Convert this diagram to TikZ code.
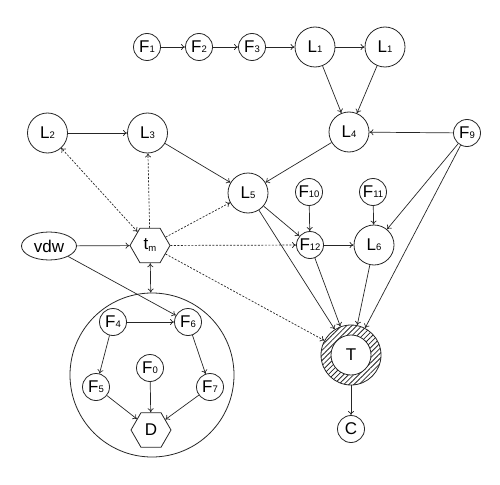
\documentclass[tikz,border=0pt]{standalone}
\usepackage{fontspec}
\setmainfont{Liberation Sans}
\usetikzlibrary{shapes.geometric,patterns.meta,arrows.meta}
\newcommand{\sbs}[1]{{\fontsize{9.5}{9.5}\selectfont #1}}
\begin{document}
\begin{tikzpicture}[x=1pt,y=-1pt,
  every node/.style={font=\fontsize{17}{17}\selectfont, inner sep=0pt, draw=black!85, line width=0.8pt},
  sm/.style={circle, minimum size=27pt},
  bg/.style={circle, minimum size=40pt},
  hex/.style={regular polygon, regular polygon sides=6, minimum size=40pt},
  arr/.style={-{To[length=4pt,width=6pt]}, line width=0.7pt, draw=black!85},
  darr/.style={arr, dash pattern=on 2pt off 1.5pt},
  ddarr/.style={darr, {To[length=4pt,width=6pt]}-{To[length=4pt,width=6pt]}},
]
\useasboundingbox (0,0) rectangle (500,484);
\node[sm] (F1) at (147,47) {F\sbs{1}};
\node[sm] (F2) at (199,47) {F\sbs{2}};
\node[sm] (F3) at (252,47) {F\sbs{3}};
\node[bg] (L1a) at (315,47) {L\sbs{1}};
\node[bg] (L1b) at (385,47) {L\sbs{1}};
\node[bg] (L4) at (349,132) {L\sbs{4}};
\node[sm] (F9) at (467,133) {F\sbs{9}};
\node[bg] (L2) at (47.5,133) {L\sbs{2}};
\node[bg] (L3) at (147.5,133) {L\sbs{3}};
\node[bg] (L5) at (248,193) {L\sbs{5}};
\node[sm] (F10) at (309,192) {F\sbs{10}};
\node[sm] (F11) at (373,192) {F\sbs{11}};
\node[sm] (F12) at (310,245) {F\sbs{12}};
\node[bg] (L6) at (374,245) {L\sbs{6}};
\node[ellipse, minimum width=55pt, minimum height=28pt] (vdw) at (49,246) {vdw};
\node[hex] (tm) at (150,245.5) {t\raisebox{-2pt}{\sbs{m}}};
\node[circle, minimum size=164pt] (grp) at (152,375) {};
\node[sm] (F4) at (113,322) {F\sbs{4}};
\node[sm] (F6) at (188,322) {F\sbs{6}};
\node[sm] (F0) at (150,368) {F\sbs{0}};
\node[sm] (F5) at (96,387) {F\sbs{5}};
\node[sm] (F7) at (210,387) {F\sbs{7}};
\node[hex] (D) at (151,430) {D};
\node[circle, minimum size=60pt, pattern={Lines[angle=45, distance=3.6pt, line width=0.8pt]}, pattern color=black!85] (T) at (351,355) {};
\node[circle, minimum size=40pt, fill=white] (Ti) at (351,355) {T};
\node[sm] (C) at (351,429) {C};

\draw[arr] (F1) -- (F2);
\draw[arr] (F2) -- (F3);
\draw[arr] (F3) -- (L1a);
\draw[arr] (L1a) -- (L1b);
\draw[arr] (L1a) -- (L4);
\draw[arr] (L1b) -- (L4);
\draw[arr] (F9) -- (L4);
\draw[arr] (L2) -- (L3);
\draw[arr] (L3) -- (L5);
\draw[arr] (L4) -- (L5);
\draw[arr] (F9) -- (L6);
\draw[arr] (F9) -- (T);
\draw[arr] (L5) -- (F12);
\draw[arr] (L5) -- (T);
\draw[arr] (F10) -- (F12);
\draw[arr] (F11) -- (L6);
\draw[arr] (F12) -- (L6);
\draw[arr] (F12) -- (T);
\draw[arr] (L6) -- (T);
\draw[arr] (vdw) -- (tm);
\draw[arr] (vdw) -- (F6);
\draw[ddarr] (tm) -- (L2);
\draw[darr] (tm) -- (L3);
\draw[darr] (tm) -- (L5);
\draw[darr] (tm) -- (F12);
\draw[darr] (tm) -- (T);
\draw[arr, {To[length=4pt,width=6pt]}-{To[length=4pt,width=6pt]}] (tm) -- (grp);
\draw[arr] (F4) -- (F6);
\draw[arr] (F4) -- (F5);
\draw[arr] (F6) -- (F7);
\draw[arr] (F5) -- (D);
\draw[arr] (F0) -- (D);
\draw[arr] (F7) -- (D);
\draw[arr] (T) -- (C);
\end{tikzpicture}
\end{document}
